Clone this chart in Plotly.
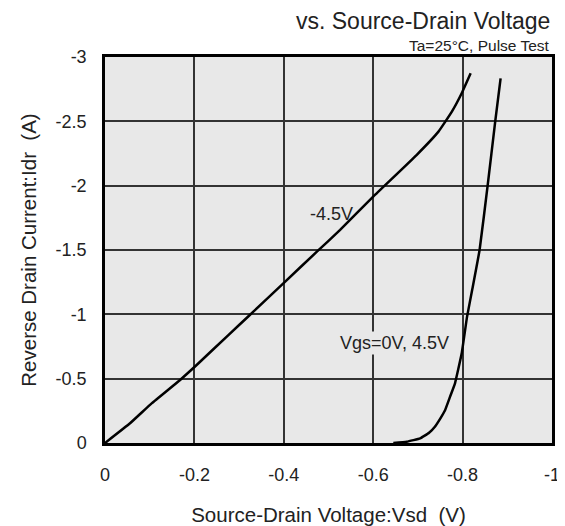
"""
Reverse drain current vs. source-drain voltage (datasheet style curve).
"""

import plotly.graph_objects as go

FONT = "Liberation Sans, Arial, sans-serif"

# Vgs = -4.5V curve
vsd_neg45 = [0.0, -0.056, -0.105, -0.168, -0.205, -0.276, -0.324, -0.399, -0.474,
             -0.526, -0.600, -0.697, -0.746, -0.776, -0.798, -0.818]
idr_neg45 = [0.0, -0.153, -0.31, -0.49, -0.606, -0.839, -0.995, -1.241, -1.487,
             -1.656, -1.915, -2.238, -2.42, -2.575, -2.718, -2.873]

# Vgs = 0V, 4.5V curve
vsd_0v = [-0.645, -0.675, -0.705, -0.725, -0.738, -0.750, -0.761, -0.772, -0.783,
          -0.798, -0.810, -0.822, -0.838, -0.856, -0.873, -0.885]
idr_0v = [0.0, -0.01, -0.036, -0.08, -0.127, -0.19, -0.257, -0.36, -0.464,
          -0.697, -0.982, -1.2, -1.5, -2.0, -2.5, -2.834]

x_ticks = [0, -0.2, -0.4, -0.6, -0.8, -1]
x_tick_text = ["0", "-0.2", "-0.4", "-0.6", "-0.8", "-1"]
y_ticks = [0, -0.5, -1, -1.5, -2, -2.5, -3]
y_tick_text = ["0", "-0.5", "-1", "-1.5", "-2", "-2.5", "-3"]

fig = go.Figure()
for xs, ys in [(vsd_neg45, idr_neg45), (vsd_0v, idr_0v)]:
    fig.add_trace(go.Scatter(
        x=xs, y=ys, mode="lines",
        line=dict(color="black", width=2.5, shape="spline", smoothing=0.3),
        showlegend=False, hoverinfo="skip",
    ))

fig.add_annotation(x=-0.454, y=-1.78, text="-4.5V", showarrow=False,
                   xanchor="left", yanchor="middle",
                   font=dict(family=FONT, size=18, color="#222"))
fig.add_annotation(x=-0.522, y=-0.78, text="Vgs=0V, 4.5V", showarrow=False,
                   xanchor="left", yanchor="middle", bgcolor="#e8e8e8",
                   font=dict(family=FONT, size=18, color="#222"))

fig.add_annotation(xref="paper", yref="paper", x=1.0, y=1.0, yshift=36,
                   text="vs. Source-Drain Voltage", showarrow=False,
                   xanchor="right", yanchor="middle",
                   font=dict(family=FONT, size=23, color="#222"))
fig.add_annotation(xref="paper", yref="paper", x=1.0, y=1.0, yshift=12,
                   text="Ta=25°C, Pulse Test", showarrow=False,
                   xanchor="right", yanchor="middle",
                   font=dict(family=FONT, size=15.5, color="#222"))

fig.update_xaxes(
    range=[0, -1], tickvals=x_ticks, ticktext=x_tick_text,
    showgrid=True, gridcolor="#333", gridwidth=1.5, zeroline=False,
    showline=True, linecolor="black", linewidth=2.5, mirror=True,
    ticks="", ticklabelstandoff=14, automargin=False,
    tickfont=dict(family=FONT, size=18, color="#222"),
    title=dict(text="Source-Drain Voltage:Vsd  (V)", standoff=26,
               font=dict(family=FONT, size=20.5, color="#222")),
)
fig.update_yaxes(
    range=[0, -3], tickvals=y_ticks, ticktext=y_tick_text,
    showgrid=True, gridcolor="#333", gridwidth=1.5, zeroline=False,
    showline=True, linecolor="black", linewidth=2.5, mirror=True,
    ticks="", ticklabelstandoff=12, automargin=False,
    tickfont=dict(family=FONT, size=18, color="#222"),
    title=dict(text="Reverse Drain Current:Idr  (A)", standoff=14,
               font=dict(family=FONT, size=20.5, color="#222")),
)

# page body has an 8px default margin, so the figure is drawn 8px smaller
fig.update_layout(
    width=557, height=518,
    margin=dict(l=97, r=13, t=49, b=83),
    plot_bgcolor="#e8e8e8", paper_bgcolor="white",
)

fig.write_html("out.html")
